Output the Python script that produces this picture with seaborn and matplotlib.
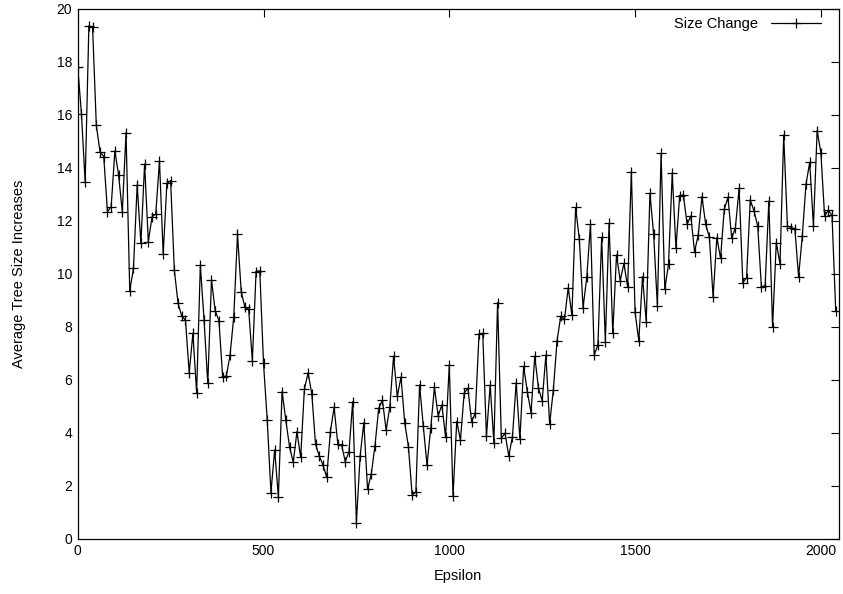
import numpy as np
import pandas as pd
import matplotlib
matplotlib.use("Agg")
import matplotlib.pyplot as plt
import seaborn as sns

# Epsilon values (step 10) and the measured average size increase at each
epsilon = list(range(0, 2050, 10))
size_change = [
    17.81, 16.03, 13.45, 19.35, 19.30, 15.60, 14.60, 14.42, 12.34, 12.53,
    14.63, 13.72, 12.34, 15.32, 9.35, 10.20, 13.35, 11.15, 14.14, 11.21,
    12.15, 12.25, 14.26, 10.74, 13.41, 13.51, 10.14, 8.88, 8.40, 8.25,
    6.26, 7.75, 5.51, 10.33, 8.25, 5.86, 9.76, 8.60, 8.23, 6.11,
    6.14, 6.93, 8.38, 11.49, 9.32, 8.73, 8.66, 6.72, 10.08, 10.11,
    6.62, 4.48, 1.74, 3.35, 1.58, 5.55, 4.48, 3.47, 2.88, 4.04,
    3.07, 5.64, 6.26, 5.46, 3.57, 3.12, 2.78, 2.32, 4.04, 4.96,
    3.56, 3.54, 2.91, 3.28, 5.17, 0.60, 3.12, 4.38, 1.86, 2.44,
    3.51, 4.92, 5.23, 4.10, 4.98, 6.89, 5.37, 6.10, 4.38, 3.47,
    1.65, 1.75, 5.80, 4.25, 2.78, 4.17, 5.71, 4.63, 5.05, 3.83,
    6.55, 1.61, 4.42, 3.72, 5.49, 5.68, 4.42, 4.73, 7.71, 7.75,
    3.87, 5.80, 3.62, 8.91, 3.79, 3.98, 3.12, 3.85, 5.89, 3.75,
    6.50, 5.55, 4.76, 6.89, 5.68, 5.21, 6.93, 4.33, 5.61, 7.47,
    8.40, 8.28, 9.47, 8.44, 12.50, 11.30, 8.72, 9.86, 11.87, 6.93,
    7.31, 11.37, 7.43, 11.90, 7.75, 10.71, 9.74, 10.39, 9.49, 13.85,
    8.54, 7.47, 9.89, 8.19, 13.03, 11.48, 8.78, 14.54, 9.42, 10.36,
    13.79, 10.96, 12.94, 12.97, 11.86, 12.18, 10.83, 11.46, 12.91, 11.86,
    11.37, 9.11, 11.36, 10.58, 12.43, 12.88, 11.34, 11.74, 13.22, 9.66,
    9.85, 12.78, 12.37, 11.80, 9.49, 9.55, 12.74, 8.00, 11.17, 10.37,
    15.23, 11.80, 11.74, 11.70, 9.89, 11.42, 13.38, 14.20, 11.80, 15.40,
    14.57, 12.18, 12.40, 12.20, 8.59,
]
x_ticks = [0, 500, 1000, 1500, 2000]
y_ticks = list(range(0, 21, 2))

df = pd.DataFrame({"Epsilon": epsilon, "Size Change": size_change})

sns.set_style("white")
plt.rcParams["font.family"] = ["Liberation Sans", "DejaVu Sans"]
plt.rcParams["text.color"] = "black"
plt.rcParams["axes.labelcolor"] = "black"

fig = plt.figure(figsize=(8.43, 5.94), dpi=100)
ax = fig.add_axes([0.0922, 0.0931, 0.9027, 0.8923])

sns.lineplot(
    data=df, x="Epsilon", y="Size Change", ax=ax,
    color="black", linewidth=0.9, marker="+", markersize=7,
    markeredgewidth=0.9, markeredgecolor="black", label="Size Change",
)

ax.set_xlim(0, 2048)
ax.set_ylim(0, 20)
ax.set_xticks(x_ticks)
ax.set_yticks(y_ticks)
ax.tick_params(direction="in", length=6, width=0.8, top=True, right=True,
               labelsize=10, colors="black", pad=4)
for s in ax.spines.values():
    s.set_visible(True)
    s.set_color("black")
    s.set_linewidth(0.9)

ax.set_xlabel("Epsilon", fontsize=10.5, labelpad=8)
ax.set_ylabel("Average Tree Size Increases", fontsize=10.5, labelpad=22)

leg = ax.legend(loc="upper right", bbox_to_anchor=(0.987, 1.0), frameon=False,
                fontsize=10.5, handlelength=3.4, borderaxespad=0.15,
                handletextpad=0.9, markerfirst=False)

fig.savefig("out.png", dpi=100)
